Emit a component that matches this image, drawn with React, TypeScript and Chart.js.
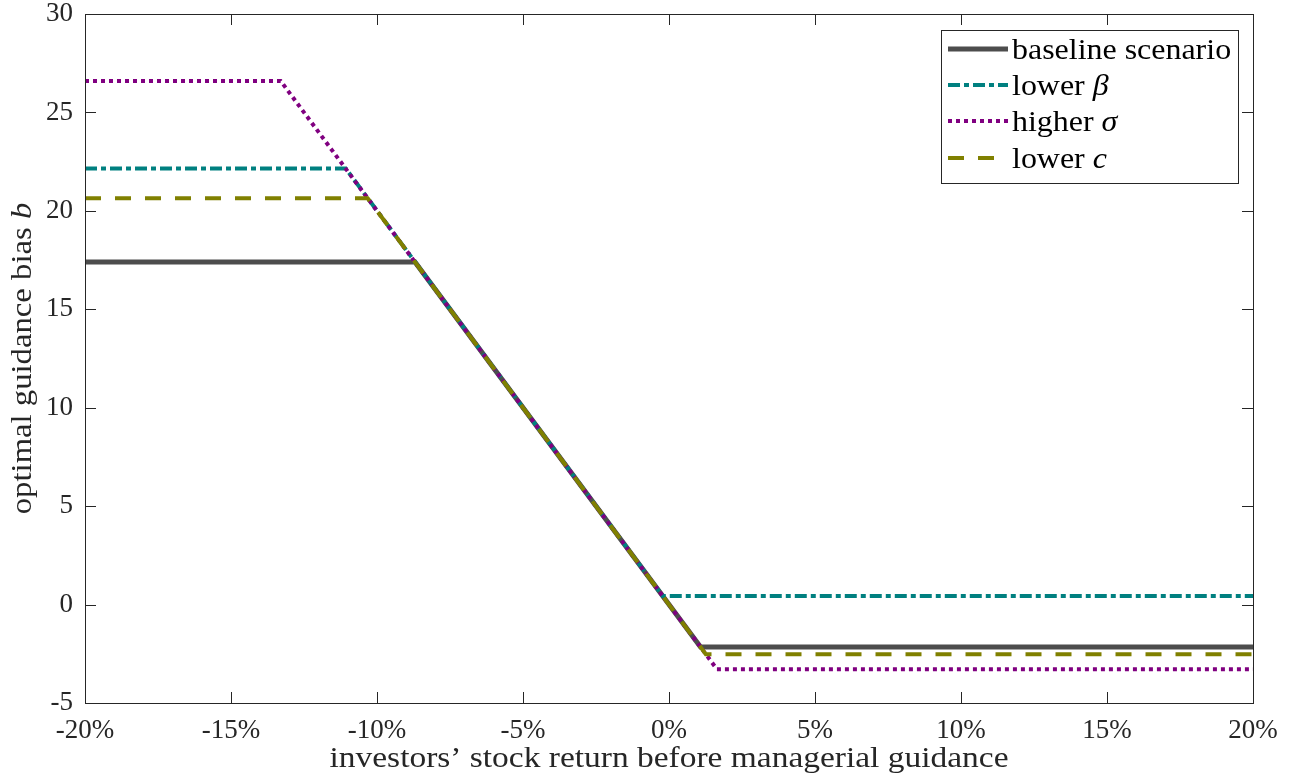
import React, { useEffect, useRef } from "react";
import { Chart, registerables } from "chart.js";

Chart.register(...registerables);

// Data (x in %, y = optimal guidance bias b)
const baselineX = [-20, -8.7, 1.08, 20];
const baselineY = [17.4, 17.4, -2.16, -2.16];
const lowerBetaX = [-20, -11.07, -0.21, 20];
const lowerBetaY = [22.15, 22.15, 0.43, 0.43];
const higherSigmaX = [-20, -13.3, 1.64, 20];
const higherSigmaY = [26.6, 26.6, -3.28, -3.28];
const lowerCX = [-20, -10.32, 1.26, 20];
const lowerCY = [20.64, 20.64, -2.52, -2.52];

const xTicks = [-20, -15, -10, -5, 0, 5, 10, 15, 20];
const yTicks = [-5, 0, 5, 10, 15, 20, 25, 30];

const legendItems = [
  { text: "baseline scenario", sym: "", color: "#4d4d4d", width: 5, dash: [] as number[] },
  { text: "lower ", sym: "β", color: "#008080", width: 4, dash: [12, 4, 5, 4] },
  { text: "higher ", sym: "σ", color: "#800080", width: 4, dash: [4, 4] },
  { text: "lower ", sym: "c", color: "#808000", width: 4, dash: [16, 14] },
];

const FONT = '"Liberation Serif", "Times New Roman", serif';
const TXT = 30;

const toPts = (xs: number[], ys: number[]) => xs.map((x, i) => ({ x, y: ys[i] }));

// draws mixed regular/italic text horizontally stretched, anchored by align
function drawParts(ctx: CanvasRenderingContext2D, parts: { t: string; it: boolean }[], x: number, y: number, align: "left" | "center", stretch: number) {
  const widths = parts.map((p) => {
    ctx.font = `${p.it ? "italic " : ""}${TXT}px ${FONT}`;
    return ctx.measureText(p.t).width;
  });
  const total = widths.reduce((a, b) => a + b, 0);
  ctx.save();
  ctx.translate(x, y);
  ctx.scale(stretch, 1);
  let cx = align === "center" ? -total / 2 : 0;
  ctx.textAlign = "left";
  parts.forEach((p, i) => {
    ctx.font = `${p.it ? "italic " : ""}${TXT}px ${FONT}`;
    ctx.fillText(p.t, cx, 0);
    cx += widths[i];
  });
  ctx.restore();
}

const decorPlugin = {
  id: "decor",
  afterDraw(chart: any) {
    const ctx = chart.ctx as CanvasRenderingContext2D;
    const { left, right, top, bottom } = chart.chartArea;
    const xs = chart.scales.x;
    const ys = chart.scales.y;
    ctx.save();
    // frame
    ctx.strokeStyle = "#262626";
    ctx.lineWidth = 1;
    ctx.strokeRect(Math.round(left) + 0.5, Math.round(top) + 0.5, Math.round(right - left), Math.round(bottom - top));
    // inward ticks
    const tl = 11;
    ctx.beginPath();
    xTicks.forEach((v) => {
      const px = Math.round(xs.getPixelForValue(v)) + 0.5;
      ctx.moveTo(px, bottom);
      ctx.lineTo(px, bottom - tl);
      ctx.moveTo(px, top);
      ctx.lineTo(px, top + tl);
    });
    yTicks.forEach((v) => {
      const py = Math.round(ys.getPixelForValue(v)) + 0.5;
      ctx.moveTo(left, py);
      ctx.lineTo(left + tl, py);
      ctx.moveTo(right, py);
      ctx.lineTo(right - tl, py);
    });
    ctx.stroke();

    // x title
    ctx.fillStyle = "#262626";
    ctx.textBaseline = "alphabetic";
    drawParts(ctx, [{ t: "investors’ stock return before managerial guidance", it: false }], (left + right) / 2, 767, "center", 1.115);

    // y title with italic b
    ctx.save();
    ctx.translate(31, (top + bottom) / 2);
    ctx.rotate(-Math.PI / 2);
    drawParts(ctx, [{ t: "optimal guidance bias ", it: false }, { t: "b", it: true }], 0, 0, "center", 1.09);
    ctx.restore();

    // legend
    const lx = 941, ly = 30, lw = 297, lh = 153;
    ctx.fillStyle = "#ffffff";
    ctx.fillRect(lx, ly, lw, lh);
    ctx.strokeStyle = "#262626";
    ctx.lineWidth = 1;
    ctx.strokeRect(lx + 0.5, ly + 0.5, lw, lh);
    const rows = [49, 85, 121, 158];
    legendItems.forEach((it, i) => {
      const y = rows[i];
      ctx.beginPath();
      ctx.strokeStyle = it.color;
      ctx.lineWidth = it.width;
      ctx.setLineDash(it.dash);
      ctx.moveTo(948, y);
      ctx.lineTo(1008, y);
      ctx.stroke();
      ctx.setLineDash([]);
      ctx.fillStyle = "#000000";
      ctx.textBaseline = "alphabetic";
      const parts = [{ t: it.text, it: false }];
      if (it.sym) parts.push({ t: it.sym, it: true });
      drawParts(ctx, parts, 1012, y + 10, "left", 1.065);
    });
    ctx.restore();
  },
};

export default function App() {
  const ref = useRef<HTMLCanvasElement>(null);
  useEffect(() => {
    document.body.style.margin = "0";
    const canvas = ref.current!;
    const ds = (label: string, xs: number[], ys: number[], color: string, width: number, dash: number[], order: number) => ({
      label,
      data: toPts(xs, ys),
      borderColor: color,
      backgroundColor: color,
      borderWidth: width,
      borderDash: dash,
      pointRadius: 0,
      tension: 0,
      fill: false,
      order,
    });
    const chart = new Chart(canvas, {
      type: "line",
      data: {
        datasets: [
          ds("baseline scenario", baselineX, baselineY, "#4d4d4d", 5, [], 4),
          ds("lower β", lowerBetaX, lowerBetaY, "#008080", 4, [12, 4, 5, 4], 3),
          ds("higher σ", higherSigmaX, higherSigmaY, "#800080", 4, [4, 4], 2),
          ds("lower c", lowerCX, lowerCY, "#808000", 4, [16, 14], 1),
        ],
      },
      options: {
        animation: false,
        responsive: false,
        maintainAspectRatio: false,
        layout: { padding: { left: 0, top: 14, right: 36, bottom: 0 } },
        plugins: { legend: { display: false }, tooltip: { enabled: false } },
        scales: {
          x: {
            type: "linear",
            min: -20,
            max: 20,
            afterFit: (s: any) => { s.height = 79; s.paddingLeft = 0; s.paddingRight = 0; },
            afterBuildTicks: (s: any) => { s.ticks = xTicks.map((v) => ({ value: v })); },
            grid: { display: false, drawTicks: false },
            border: { display: false },
            ticks: {
              padding: 12,
              color: "#262626",
              font: { family: FONT, size: 27 },
              maxRotation: 0,
              callback: (v: any) => `${v}%`,
            },
          },
          y: {
            type: "linear",
            min: -5,
            max: 30,
            afterFit: (s: any) => { s.width = 85; s.paddingTop = 0; s.paddingBottom = 0; },
            afterBuildTicks: (s: any) => { s.ticks = yTicks.map((v) => ({ value: v })); },
            grid: { display: false, drawTicks: false },
            border: { display: false },
            ticks: {
              padding: 12,
              color: "#262626",
              font: { family: FONT, size: 27 },
            },
          },
        },
      },
      plugins: [decorPlugin],
    });
    return () => chart.destroy();
  }, []);
  return (
    <div style={{ width: 1289, height: 782 }}>
      <canvas ref={ref} width={1289} height={782} style={{ display: "block" }} />
    </div>
  );
}
